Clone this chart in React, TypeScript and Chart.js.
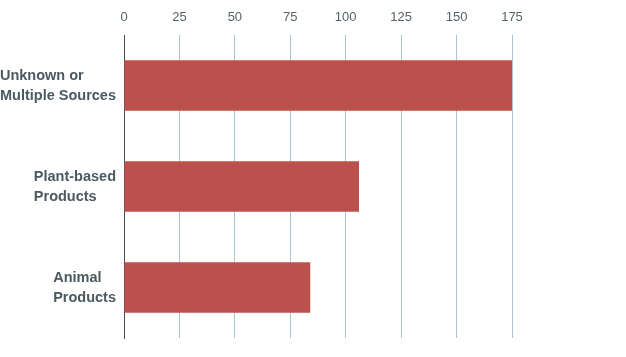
import React, { useEffect, useRef } from "react";
import { Chart, registerables } from "chart.js";

Chart.register(...registerables);

const categories: string[][] = [
  ["Unknown or", "Multiple Sources"],
  ["Plant-based", "Products"],
  ["Animal", "Products"],
];
const values: number[] = [175, 106, 84];
const tickMax = 175;
const tickStep = 25;

const labelPlugin = {
  id: "leftLabels",
  afterDraw(chart: any) {
    const { ctx } = chart;
    const yScale = chart.scales.y;
    const left = chart.chartArea.left;
    ctx.save();
    ctx.font = "bold 14.5px 'Liberation Sans', Arial, sans-serif";
    ctx.fillStyle = "#4a5a60";
    ctx.textBaseline = "middle";
    ctx.textAlign = "left";
    const lh = 20;
    (chart.data.labels as string[][]).forEach((lines, i) => {
      const y = yScale.getPixelForValue(i);
      const w = Math.max(...lines.map((l) => ctx.measureText(l).width));
      const x = left - 8 - w;
      lines.forEach((line, k) => {
        ctx.fillText(line, x, y + (k - (lines.length - 1) / 2) * lh);
      });
    });
    ctx.restore();
  },
};

export default function App() {
  const ref = useRef<HTMLCanvasElement>(null);
  useEffect(() => {
    document.body.style.margin = "0";
    const chart = new Chart(ref.current!, {
      type: "bar",
      data: {
        labels: categories,
        datasets: [
          {
            data: values,
            backgroundColor: "#bc504c",
            borderWidth: 0,
            barPercentage: 0.5,
            categoryPercentage: 1,
          },
        ],
      },
      options: {
        indexAxis: "y",
        animation: false,
        responsive: false,
        maintainAspectRatio: false,
        layout: { padding: { top: 0.5, bottom: 19, left: 124, right: 114 } },
        plugins: { legend: { display: false }, tooltip: { enabled: false } },
        scales: {
          x: {
            position: "top",
            min: 0,
            max: tickMax,
            ticks: {
              stepSize: tickStep,
              padding: 9.5,
              color: "#55646a",
              font: { family: "'Liberation Sans', Arial, sans-serif", size: 13 },
            },
            grid: { color: "#a9c6cc", drawTicks: false, lineWidth: 1 },
            border: { display: false },
          },
          y: {
            ticks: { display: false },
            grid: { display: false, drawTicks: false },
            border: { display: true, color: "#4a4a4a", width: 1 },
          },
        },
      },
      plugins: [labelPlugin],
    });
    return () => chart.destroy();
  }, []);
  return <canvas ref={ref} width={626} height={357} style={{ display: "block" }} />;
}
